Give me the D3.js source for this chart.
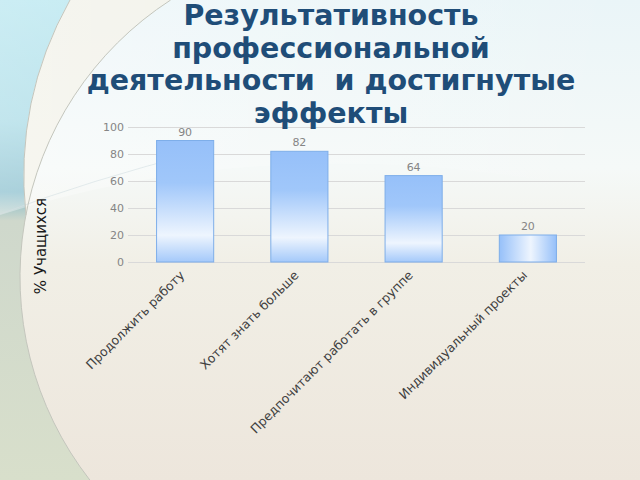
<!DOCTYPE html>
<html>
<head>
<meta charset="utf-8">
<script src="https://cdn.jsdelivr.net/npm/d3@7"></script>
<style>
    body { margin: 0; overflow: hidden; }
    svg { display: block; }
</style>
</head>
<body>
<div id="cnt"></div>
<script>
const categories = [
    'Продолжить работу',
    'Хотят знать больше',
    'Предпочитают работать в группе',
    'Индивидуальный проекты'
]
const values = [90, 82, 64, 20]
const yTicks = [0, 20, 40, 60, 80, 100]
const titleLines = [
    'Результативность',
    'профессиональной',
    'деятельности  и достигнутые',
    'эффекты'
]
const yLabel = '% Учащихся'

const width = 640
const height = 480
const margin = { left: 128, right: 55, top: 127, bottom: 218 }

const svg = d3.select('#cnt')
    .append('svg')
    .attr('width', width)
    .attr('height', height)

const defs = svg.append('defs')

// slide background
const bg = defs.append('linearGradient')
    .attr('id', 'bg')
    .attr('x1', 0).attr('y1', 0).attr('x2', 0).attr('y2', 1)
bg.append('stop').attr('offset', '0%').attr('stop-color', '#eaf5f8')
bg.append('stop').attr('offset', '35%').attr('stop-color', '#f5f9f8')
bg.append('stop').attr('offset', '55%').attr('stop-color', '#f1efe6')
bg.append('stop').attr('offset', '100%').attr('stop-color', '#ede6dc')

const side = defs.append('linearGradient')
    .attr('id', 'side')
    .attr('x1', 0).attr('y1', 0).attr('x2', 0).attr('y2', 1)
side.append('stop').attr('offset', '0%').attr('stop-color', '#b0e4ee')
side.append('stop').attr('offset', '25%').attr('stop-color', '#a2d8e4')
side.append('stop').attr('offset', '40%').attr('stop-color', '#7fb9c9')
side.append('stop').attr('offset', '46%').attr('stop-color', '#cfd8cc')
side.append('stop').attr('offset', '100%').attr('stop-color', '#d8dfcb')

const sheen = defs.append('linearGradient')
    .attr('id', 'sheen')
    .attr('x1', 0).attr('y1', 0).attr('x2', 1).attr('y2', 0)
sheen.append('stop').attr('offset', '0%').attr('stop-color', '#ffffff').attr('stop-opacity', 0.7)
sheen.append('stop').attr('offset', '100%').attr('stop-color', '#ffffff').attr('stop-opacity', 0)

// bar fills: vertical for tall bars, horizontal for wide ones
const barV = defs.append('linearGradient')
    .attr('id', 'barV')
    .attr('x1', 0).attr('y1', 0).attr('x2', 0).attr('y2', 1)
barV.append('stop').attr('offset', '0%').attr('stop-color', '#96c0f9')
barV.append('stop').attr('offset', '35%').attr('stop-color', '#a0c7fa')
barV.append('stop').attr('offset', '78%').attr('stop-color', '#eef5fe')
barV.append('stop').attr('offset', '100%').attr('stop-color', '#a4c9fa')

const barH = defs.append('linearGradient')
    .attr('id', 'barH')
    .attr('x1', 0).attr('y1', 0).attr('x2', 1).attr('y2', 0)
barH.append('stop').attr('offset', '0%').attr('stop-color', '#96c0f9')
barH.append('stop').attr('offset', '55%').attr('stop-color', '#eef5fe')
barH.append('stop').attr('offset', '100%').attr('stop-color', '#96c0f9')

svg.append('rect')
    .attr('width', width)
    .attr('height', height)
    .attr('fill', 'url(#bg)')

// the two arcs on the left of the slide
const arcCx = 350, arcCy = 277, arcR = 330
const arcX = yy => arcCx - Math.sqrt(arcR * arcR - (yy - arcCy) * (yy - arcCy))
const joinY = 215
const outerTop = `M70,0 Q14,100 ${arcX(joinY)},${joinY}`
const innerLow = `A${arcR},${arcR} 0 0,0 ${arcX(height)},${height}`

svg.append('path')
    .attr('d', `${outerTop} ${innerLow} L0,${height} L0,0Z`)
    .attr('fill', 'url(#side)')

svg.append('path')
    .attr('d', `${outerTop} A${arcR},${arcR} 0 0,1 ${arcX(0)},0Z`)
    .attr('fill', '#f1efe2')
    .attr('opacity', 0.8)

svg.append('path')
    .attr('d', 'M0,215 Q300,120 640,200 L640,0 L0,0Z')
    .attr('fill', 'url(#sheen)')
    .attr('opacity', 0.5)

svg.append('path')
    .attr('d', 'M0,214 Q90,180 200,152')
    .attr('fill', 'none')
    .attr('stroke', '#d3e0e2')
    .attr('stroke-width', 1)
    .attr('opacity', 0.6)

svg.append('path')
    .attr('d', `M${arcX(0)},0 A${arcR},${arcR} 0 0,0 ${arcX(height)},${height}`)
    .attr('fill', 'none')
    .attr('stroke', '#c4c6bd')
    .attr('stroke-width', 1)

svg.append('path')
    .attr('d', outerTop)
    .attr('fill', 'none')
    .attr('stroke', '#c4c6bd')
    .attr('stroke-width', 1)

// chart
const x = d3.scaleBand()
    .domain(categories)
    .range([margin.left, width - margin.right])
    .paddingInner(0.5)
    .paddingOuter(0.25)

const y = d3.scaleLinear()
    .domain([0, 100])
    .range([height - margin.bottom, margin.top])

const yAxis = svg.append('g')
    .attr('transform', `translate(${margin.left},0)`)
    .call(d3.axisLeft(y).tickValues(yTicks).tickSize(-(width - margin.left - margin.right)).tickPadding(4))
yAxis.select('.domain').remove()
yAxis.selectAll('line')
    .attr('stroke', '#d9d9d9')
yAxis.selectAll('text')
    .attr('fill', '#858585')
    .style('font-family', 'DejaVu Sans')
    .style('font-size', '11px')

svg.selectAll('rect.bar')
    .data(values)
    .join('rect')
    .attr('class', 'bar')
    .attr('x', (d, i) => x(categories[i]))
    .attr('y', d => y(d))
    .attr('width', x.bandwidth())
    .attr('height', d => y(0) - y(d))
    .attr('fill', d => (y(0) - y(d)) > x.bandwidth() ? 'url(#barV)' : 'url(#barH)')
    .attr('stroke', '#7eaee9')
    .attr('stroke-width', 1)

svg.selectAll('text.val')
    .data(values)
    .join('text')
    .attr('class', 'val')
    .attr('x', (d, i) => x(categories[i]) + x.bandwidth() / 2)
    .attr('y', d => y(d) - 5)
    .attr('text-anchor', 'middle')
    .attr('fill', '#858585')
    .style('font-family', 'DejaVu Sans')
    .style('font-size', '11px')
    .text(d => d)

svg.selectAll('text.cat')
    .data(categories)
    .join('text')
    .attr('class', 'cat')
    .attr('transform', d => `translate(${x(d) + x.bandwidth() / 2 - 3},${y(0) + 11}) rotate(-45)`)
    .attr('text-anchor', 'end')
    .attr('dy', '0.35em')
    .attr('fill', '#404040')
    .style('font-family', 'DejaVu Sans')
    .style('font-size', '12.5px')
    .text(d => d)

svg.append('text')
    .attr('transform', `translate(46,246) rotate(-90)`)
    .attr('text-anchor', 'middle')
    .attr('fill', '#1a1a1a')
    .style('font-family', 'DejaVu Sans')
    .style('font-size', '15px')
    .text(yLabel)

svg.append('g')
    .selectAll('text')
    .data(titleLines)
    .join('text')
    .attr('x', 331)
    .attr('y', (d, i) => 25 + i * 32.5)
    .attr('text-anchor', 'middle')
    .attr('fill', '#1f4d78')
    .style('font-family', 'DejaVu Sans')
    .style('font-weight', 'bold')
    .style('font-size', '28.5px')
    .style('white-space', 'pre')
    .text(d => d)
</script>
</body>
</html>
